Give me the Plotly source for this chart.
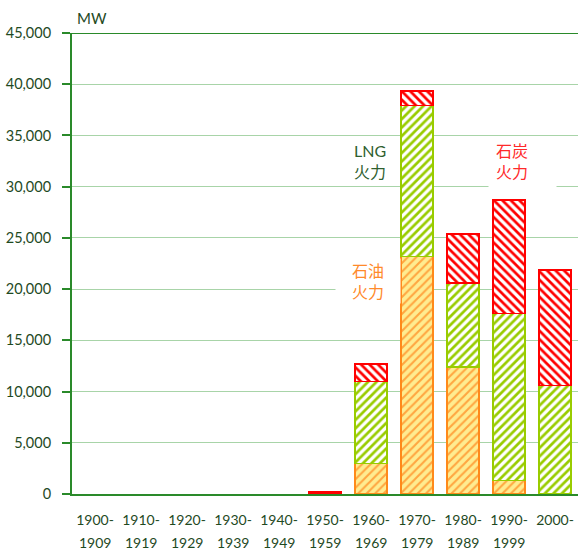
import plotly.graph_objects as go

categories = ["1900-1909", "1910-1919", "1920-1929", "1930-1939", "1940-1949",
              "1950-1959", "1960-1969", "1970-1979", "1980-1989", "1990-1999", "2000-"]
label_top = ["1900-", "1910-", "1920-", "1930-", "1940-", "1950-", "1960-", "1970-", "1980-", "1990-", "2000-"]
label_bottom = ["1909", "1919", "1929", "1939", "1949", "1959", "1969", "1979", "1989", "1999", ""]
oil = [0, 0, 0, 0, 0, 0, 3000, 23200, 12400, 1300, 0]
lng = [0, 0, 0, 0, 0, 0, 8000, 14700, 8200, 16300, 10600]
coal = [0, 0, 0, 0, 0, 200, 1700, 1450, 4800, 11100, 11250]
y_ticks = [0, 5000, 10000, 15000, 20000, 25000, 30000, 35000, 40000, 45000]

AXIS = "#2A8A2A"
GRID = "#A8D4A8"
TEXT = "#1F4A1F"
FONT = "Lato, 'Noto Sans CJK JP', sans-serif"


def nz(vals):
    return [v if v else None for v in vals]


fig = go.Figure()
fig.add_trace(go.Bar(
    x=categories, y=nz(oil), name="石油火力",
    marker=dict(color="#FFE98A", line=dict(color="#FF8A1A", width=1.5),
                pattern=dict(shape="/", fgcolor="#FFA640", bgcolor="#FFEC90", size=6, solidity=0.35, fillmode="replace")),
))
fig.add_trace(go.Bar(
    x=categories, y=nz(lng), name="LNG火力",
    marker=dict(color="#FFFFFF", line=dict(color="#99CC00", width=1.5),
                pattern=dict(shape="/", fgcolor="#99CC00", bgcolor="#FFFFFF", size=6, solidity=0.45, fillmode="replace")),
))
fig.add_trace(go.Bar(
    x=categories, y=nz(coal), name="石炭火力",
    marker=dict(color="#FFFFFF", line=dict(color="#FF0000", width=1.5),
                pattern=dict(shape="\\", fgcolor="#FF0000", bgcolor="#FFFFFF", size=6, solidity=0.45, fillmode="replace")),
))

fig.update_layout(
    barmode="stack",
    bargap=0.3,
    width=578, height=552,
    margin=dict(l=72, r=0, t=33, b=58),
    plot_bgcolor="white", paper_bgcolor="white",
    showlegend=False,
    font=dict(family=FONT, color=TEXT, size=14),
)
fig.update_yaxes(
    range=[0, 45000], tickvals=y_ticks, tickformat=",d",
    showgrid=True, gridcolor=GRID, gridwidth=1,
    showline=True, linecolor=AXIS, linewidth=2,
    ticks="outside", ticklen=8, tickcolor=AXIS, tickwidth=2,
    tickfont=dict(size=14.5, color=TEXT), zeroline=False,
    automargin=False, ticklabelstandoff=8,
)
fig.update_xaxes(
    showline=True, linecolor=AXIS, linewidth=2, ticks="",
    tickvals=categories, ticktext=label_top,
    tickfont=dict(size=14, color=TEXT), showgrid=False,
    automargin=False, ticklabelstandoff=12, tickangle=0,
)
for cat, txt in zip(categories, label_bottom):
    if txt:
        fig.add_annotation(x=cat, xref="x", yref="paper", y=0, yshift=-48, text=txt,
                           showarrow=False, font=dict(size=14, color=TEXT),
                           xanchor="center", yanchor="middle")

fig.add_shape(type="line", xref="paper", yref="y", x0=0, x1=1, y0=45000, y1=45000,
              line=dict(color=AXIS, width=2))

fig.add_annotation(xref="paper", yref="paper", x=0.04, y=1.0, yshift=15, text="MW",
                   showarrow=False, font=dict(size=15, color=TEXT), xanchor="center", yanchor="middle")

# white label backgrounds that break the gridlines
fig.add_annotation(x=9, y=32100, xshift=13, text=" ", showarrow=False,
                   bgcolor="white", width=67, height=54, borderpad=0)
fig.add_annotation(x=6, y=20800, xshift=-3, text=" ", showarrow=False,
                   bgcolor="white", width=64, height=44, borderpad=0)

fig.add_annotation(x=6, y=32550, xshift=-1, text="LNG<br>火力", showarrow=False,
                   font=dict(size=16, color="#2F5F2F"), align="center")
fig.add_annotation(x=9, y=32550, xshift=3, text="石炭<br>火力", showarrow=False,
                   font=dict(size=16, color="#FF2A2A"), align="center")
fig.add_annotation(x=6, y=20800, xshift=-3, text="石油<br>火力", showarrow=False,
                   font=dict(size=16, color="#FF8A2A"), align="center")

fig.write_html("out.html", config={"displayModeBar": False},
               post_script="document.body.style.margin='0';document.body.style.overflow='hidden';")
